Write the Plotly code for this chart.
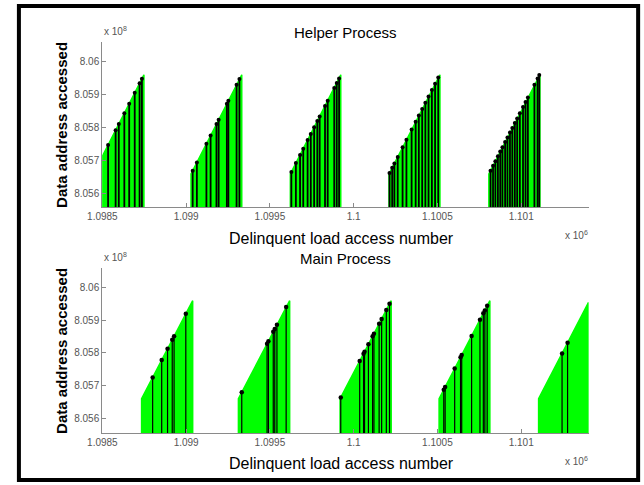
import plotly.graph_objects as go

# ---------------- data ----------------
x_tick_vals = [1098500, 1099000, 1099500, 1100000, 1100500, 1101000]
x_tick_text = ["1.0985", "1.099", "1.0995", "1.1", "1.1005", "1.101"]
y_tick_vals = [805600000, 805700000, 805800000, 805900000, 806000000]
y_tick_text = ["8.056", "8.057", "8.058", "8.059", "8.06"]

# Helper process: sawtooth runs (start / end of each linear address sweep)
helper_run_start_x = [1098500, 1099029, 1099622, 1100211, 1100807]
helper_run_start_y = [805714000, 805660000, 805660000, 805660000, 805660000]
helper_run_end_x = [1098748, 1099332, 1099923, 1100515, 1101112]
helper_run_end_y = [805960000, 805960000, 805960000, 805960000, 805960000]

# Helper process: individual delinquent loads (black stems)
helper_access = [
    1098534, 1098579, 1098598, 1098631, 1098660, 1098693, 1098722, 1098736,
    1099039, 1099064, 1099121, 1099146, 1099181, 1099194, 1099243, 1099252, 1099301, 1099318,
    1099628, 1099655, 1099680, 1099699, 1099725, 1099744, 1099764, 1099783, 1099797,
    1099829, 1099845, 1099884, 1099899, 1099913,
    1100214, 1100230, 1100243, 1100263, 1100292, 1100315, 1100346, 1100370, 1100389,
    1100409, 1100428, 1100447, 1100467, 1100486, 1100505,
    1100817, 1100832, 1100846, 1100861, 1100875, 1100888, 1100904, 1100918, 1100933,
    1100947, 1100962, 1100976, 1100992, 1101011, 1101026, 1101040, 1101079, 1101098, 1101108,
]
helper_addr = [
    805747500, 805792200, 805811000, 805843800, 805872600, 805905400, 805934200, 805948100,
    805669900, 805694800, 805751400, 805776200, 805810900, 805823800, 805872500, 805881400, 805930100, 805947000,
    805666000, 805692800, 805717600, 805736500, 805762300, 805781100, 805801000, 805819900, 805833800,
    805865600, 805881400, 805920200, 805935100, 805949000,
    805663000, 805678900, 805691800, 805711600, 805740400, 805763300, 805794100, 805817900, 805836800,
    805856600, 805875500, 805894300, 805914200, 805933100, 805951900,
    805669900, 805684800, 805698700, 805713600, 805727500, 805740400, 805756300, 805770200, 805785100,
    805799000, 805813900, 805827800, 805843700, 805862600, 805877500, 805891400, 805930100, 805949000, 805958900,
]

# Main process
main_run_start_x = [1098734, 1099312, 1099919, 1100510, 1101104]
main_run_start_y = [805660000, 805660000, 805660000, 805660000, 805660000]
main_run_end_x = [1099039, 1099618, 1100224, 1100813, 1101402]
main_run_end_y = [805960000, 805960000, 805960000, 805960000, 805955000]

main_access = [
    1098800, 1098854, 1098889, 1098917, 1098928, 1098998,
    1099332, 1099483, 1099491, 1099520, 1099529, 1099542, 1099597,
    1099923, 1100036, 1100059, 1100065, 1100088, 1100113, 1100121, 1100152, 1100167, 1100195, 1100214,
    1100538, 1100546, 1100603, 1100638, 1100645, 1100704, 1100754, 1100774, 1100783, 1100797,
    1101244, 1101277,
]
main_addr = [
    805724900, 805778100, 805812500, 805840100, 805850900, 805919800,
    805679700, 805828300, 805836100, 805864700, 805873500, 805886300, 805940400,
    805663900, 805775100, 805797800, 805803700, 805826300, 805850900, 805858800, 805889300, 805904000, 805931600, 805950300,
    805687700, 805695600, 805752100, 805786700, 805793700, 805852100, 805901600, 805921400, 805930300, 805944100,
    805798600, 805831300,
]

X_RANGE = [1098499, 1101402]
Y_RANGE_TOP = [805560000, 806060000]
Y_RANGE_BOT = [805555000, 806060000]

# ---------------- figure ----------------
W, H = 644, 485
def fx(p):
    return p / W
def fy(p):
    return 1 - p / H

GREEN = "#00FF00"
fig = go.Figure()

def add_panel(xa, ya, sx, sy, ex, ey, acc, addr, base, stem_w, msize):
    for x0, y0, x1, y1 in zip(sx, sy, ex, ey):
        fig.add_trace(go.Scatter(
            x=[x0, x0, x1, x1, x0], y=[base, y0, y1, base, base],
            fill="toself", fillcolor=GREEN, mode="lines",
            line=dict(color=GREEN, width=1.5), xaxis=xa, yaxis=ya, hoverinfo="skip"))
    sxs, sys_ = [], []
    for a, d in zip(acc, addr):
        sxs += [a, a, None]
        sys_ += [base, d, None]
    fig.add_trace(go.Scatter(x=sxs, y=sys_, mode="lines",
                             line=dict(color="black", width=stem_w),
                             xaxis=xa, yaxis=ya, hoverinfo="skip"))
    fig.add_trace(go.Scatter(x=acc, y=addr, mode="markers",
                             marker=dict(color="black", size=msize),
                             xaxis=xa, yaxis=ya, cliponaxis=False))

add_panel("x", "y", helper_run_start_x, helper_run_start_y, helper_run_end_x,
          helper_run_end_y, helper_access, helper_addr, Y_RANGE_TOP[0] - 20000, 1.8, 4)
add_panel("x2", "y2", main_run_start_x, main_run_start_y, main_run_end_x,
          main_run_end_y, main_access, main_addr, Y_RANGE_BOT[0] - 20000, 1.2, 4.5)

FONT = "Liberation Sans, Arial, sans-serif"
AX_COL = "#8a8a8a"
TICK_FONT = dict(family=FONT, size=10, color="#555555")

x_dom = [fx(89.3), fx(587.2)]
def xaxis_cfg(anchor):
    return dict(domain=x_dom, range=X_RANGE, anchor=anchor,
                tickmode="array", tickvals=x_tick_vals, ticktext=x_tick_text,
                ticks="inside", ticklen=4, tickcolor=AX_COL, tickwidth=1,
                showline=True, linecolor=AX_COL, linewidth=1,
                showgrid=False, zeroline=False, tickfont=TICK_FONT, fixedrange=True)
def yaxis_cfg(anchor, dom, rng):
    return dict(domain=dom, range=rng, anchor=anchor,
                tickmode="array", tickvals=y_tick_vals, ticktext=y_tick_text,
                ticks="inside", ticklen=4, tickcolor=AX_COL, tickwidth=1,
                showline=True, linecolor=AX_COL, linewidth=1,
                showgrid=False, zeroline=False, tickfont=TICK_FONT, fixedrange=True)

annotations = []
def ann(text, x, y, size, color="black", angle=0, xanchor="center"):
    annotations.append(dict(text=text, x=x, y=y, xref="paper", yref="paper",
                            showarrow=False, xanchor=xanchor, yanchor="middle",
                            textangle=angle, font=dict(family=FONT, size=size, color=color)))

# top panel texts
ann("Helper Process", fx(338), fy(33), 15)
ann("Delinquent load access number", fx(334), fy(238), 16)
ann("<b>Data address accessed</b>", fx(47.5), fy(124.5), 15, angle=-90)
ann("x 10<sup>8</sup>", fx(89), fy(31), 10, color="#555555", xanchor="left")
ann("x 10<sup>6</sup>", fx(561), fy(235), 10, color="#555555", xanchor="left")
# bottom panel texts
ann("Main Process", fx(338), fy(258), 15)
ann("Delinquent load access number", fx(334), fy(463), 16)
ann("<b>Data address accessed</b>", fx(47.5), fy(350.5), 15, angle=-90)
ann("x 10<sup>8</sup>", fx(89), fy(257), 10, color="#555555", xanchor="left")
ann("x 10<sup>6</sup>", fx(561), fy(461), 10, color="#555555", xanchor="left")

fig.update_layout(
    width=W, height=H, margin=dict(l=0, r=0, t=0, b=0),
    paper_bgcolor="white", plot_bgcolor="white", showlegend=False,
    xaxis=xaxis_cfg("y"),
    yaxis=yaxis_cfg("x", [fy(207), fy(41.7)], Y_RANGE_TOP),
    xaxis2=xaxis_cfg("y2"),
    yaxis2=yaxis_cfg("x2", [fy(433), fy(268)], Y_RANGE_BOT),
    annotations=annotations,
    shapes=[dict(type="rect", xref="paper", yref="paper",
                 x0=fx(4), x1=fx(638), y0=fy(480), y1=fy(6),
                 line=dict(color="black", width=4), fillcolor="rgba(0,0,0,0)")],
)

fig.write_html("out.html")
